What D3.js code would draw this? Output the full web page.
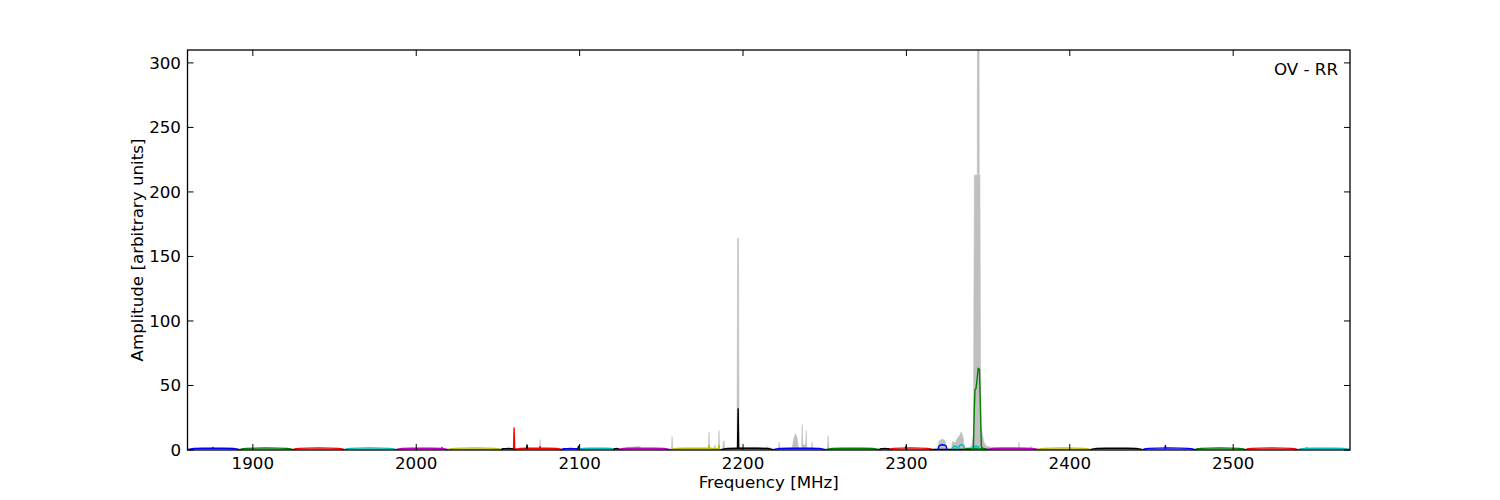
<!DOCTYPE html>
<html lang="en">
<head>
  <meta charset="UTF-8">
  <title>OV - RR spectrum</title>
  <script src="https://cdn.jsdelivr.net/npm/d3@7"></script>
  <style>
    body { margin: 0; background: #fff; }
    svg { font-family: "DejaVu Sans", sans-serif; }
    .band { fill: none; stroke-width: 1.4; stroke-linejoin: round; }
  </style>
</head>
<body>
  <svg width="1500" height="500"></svg>

  <script>
    // --- data ---
    const xTicks = [1900, 2000, 2100, 2200, 2300, 2400, 2500];
    const yTicks = [0, 50, 100, 150, 200, 250, 300];

    // total spectrum (grey fill)
    const grayFreq = [1860, 2075.4, 2075.8, 2076.2, 2127, 2128.5, 2132, 2135, 2137, 2137.6,
      2156.2, 2156.6, 2157.0, 2178.8, 2179.2, 2179.6, 2182.5, 2182.9, 2183.3, 2184.9, 2185.3, 2185.7,
      2187.6, 2188.0, 2188.4, 2188.8, 2196.3, 2196.7, 2197.2, 2197.6, 2214, 2215.2, 2215.6, 2218,
      2221.7, 2222.1, 2222.5, 2230, 2231, 2232, 2233, 2234, 2235.8, 2236.2, 2236.6, 2238.3, 2238.7, 2239.1,
      2241.9, 2242.3, 2242.7, 2251.6, 2252.1, 2252.6, 2319, 2320, 2322, 2323.7, 2324.5,
      2327.5, 2328.3, 2330, 2331, 2332.5, 2333.5, 2334.7, 2335.4, 2338, 2340, 2341,
      2341.6, 2343.4, 2343.45, 2344.5, 2344.55, 2345.0, 2345.5, 2346.5, 2347.5, 2349, 2352, 2366,
      2368.5, 2368.9, 2369.3, 2375.8, 2376.2, 2376.6, 2380, 2572];
    const grayAmp = [0.8, 0.8, 8, 0.8, 0.8, 2, 2.2, 2.8, 2.6, 0.8,
      0.8, 10.5, 0.8, 0.8, 14, 0.8, 0.8, 4, 0.8, 0.8, 15, 0.8,
      0.8, 6, 7, 0.8, 0.8, 164, 164, 2, 2, 2.5, 2, 0.8,
      0.8, 6, 0.8, 0.8, 8, 12.5, 10, 0.8, 0.8, 20, 4, 4, 15, 0.8,
      0.8, 6, 0.8, 0.8, 11, 0.8, 0.8, 7, 8.5, 7, 0.8,
      0.8, 6.5, 5.5, 9, 11, 14, 10, 1.5, 2, 3, 12,
      213, 213, 330, 330, 213, 213, 20, 12, 6, 3, 2, 1.8,
      1.5, 6, 1.5, 1.2, 3, 0.8, 0.8, 0.8];

    // sub-band passbands
    const bandStart = [1860, 1892, 1924.5, 1956, 1987.5, 2019.5, 2052, 2060, 2089, 2099, 2121, 2123,
      2155.5, 2186.5, 2218.5, 2250.5, 2283.5, 2289, 2314, 2319.5, 2328.3, 2332, 2335, 2340.2,
      2349, 2380, 2412.5, 2444.5, 2476.5, 2507.5, 2539.5];
    const bandEnd = [1892, 1924.5, 1956, 1987.5, 2019.5, 2052, 2061, 2089.5, 2100, 2122, 2124, 2155.5,
      2186.5, 2218.5, 2250.5, 2283.5, 2290, 2316, 2340, 2324.8, 2331.2, 2335.5, 2350, 2344.5,
      2381, 2412.5, 2444.5, 2476.5, 2507.5, 2539.5, 2571.5];
    const bandColor = ["b", "g", "r", "c", "m", "y", "k", "r", "b", "c", "k", "m",
      "y", "k", "b", "g", "k", "r", "k", "b", "c", "c", "g", "c",
      "m", "y", "k", "b", "g", "r", "c"];
    const bandLevel = [1.2, 1.3, 1.3, 1.3, 1.2, 1.3, 1, 1.2, 1, 1.2, 1, 1.2,
      1.2, 1.2, 1.2, 1.2, 1, 1.3, 0.4, 3.5, 2.5, 3.5, 1, 2.5,
      1.2, 1.3, 1.2, 1.3, 1.3, 1.3, 1.2];
    // passband shape across one sub-band (fraction of band, relative level)
    const humpPos = [0, 0.04, 0.12, 0.3, 0.5, 0.7, 0.88, 0.96, 1];
    const humpShape = [0.1, 0.6, 0.95, 1.1, 1.15, 1.1, 0.95, 0.6, 0.1];

    // narrow spikes in the sub-band lines
    const spikeFreq = [1875.6, 2015.8, 2059.9, 2067.8, 2075.8, 2099.3, 2179.2, 2185.3, 2197, 2299.8, 2458.5, 2545];
    const spikeAmp = [2, 2, 17, 4, 2.5, 3, 3.5, 3.5, 32, 3, 3.5, 1.8];
    const spikeColor = ["b", "m", "r", "k", "r", "k", "y", "y", "k", "k", "b", "c"];

    // strong line near 2343 MHz in the green sub-band
    const greenPeakFreq = [2340.4, 2341.0, 2341.6, 2342.0, 2342.6, 2343.2, 2343.9, 2344.7, 2345.3, 2345.9, 2347.1];
    const greenPeakAmp = [1, 1.3, 33.6, 46.5, 47.8, 54, 63.3, 62.5, 33.6, 2.6, 1];

    const colorMap = { b: "#0000ff", g: "#008000", r: "#ff0000", c: "#00bfbf", m: "#bf00bf", y: "#bfbf00", k: "#000000" };

    // --- layout ---
    const margin = { left: 187.5, right: 150, top: 50, bottom: 50 };
    const width = 1500, height = 500;
    const fontSize = 16.7;
    const svg = d3.select("svg");

    const x = d3.scaleLinear().domain([1860, 2571.5]).range([margin.left, width - margin.right]);
    const y = d3.scaleLinear().domain([0, 310]).range([height - margin.bottom, margin.top]);

    svg.append("clipPath").attr("id", "plot")
      .append("rect")
      .attr("x", x.range()[0]).attr("y", y.range()[1])
      .attr("width", x.range()[1] - x.range()[0]).attr("height", y.range()[0] - y.range()[1]);

    const plot = svg.append("g").attr("clip-path", "url(#plot)");

    // grey total spectrum
    const grayPts = grayFreq.map((f, i) => [f, grayAmp[i]]);
    plot.append("path")
      .datum(grayPts)
      .attr("fill", "#bfbfbf")
      .attr("stroke", "#bfbfbf")
      .attr("stroke-width", 0.6)
      .attr("d", d3.area().x(d => x(d[0])).y0(y(0)).y1(d => y(d[1])));

    const line = d3.line().x(d => x(d[0])).y(d => y(d[1]));

    // sub-bands
    bandStart.forEach((s, i) => {
      const e = bandEnd[i];
      const pts = humpPos.map((p, j) => [s + p * (e - s), humpShape[j] * bandLevel[i]]);
      plot.append("path")
        .datum(pts)
        .attr("class", "band")
        .attr("stroke", colorMap[bandColor[i]])
        .attr("d", line);
    });

    // green strong line
    plot.append("path")
      .datum(greenPeakFreq.map((f, i) => [f, greenPeakAmp[i]]))
      .attr("class", "band")
      .attr("stroke", colorMap.g)
      .attr("d", line);

    // spikes
    spikeFreq.forEach((f, i) => {
      plot.append("path")
        .datum([[f - 0.35, 1], [f, spikeAmp[i]], [f + 0.35, 1]])
        .attr("class", "band")
        .attr("stroke", colorMap[spikeColor[i]])
        .attr("d", line);
    });

    // --- axes (classic style: ticks inside on all four sides) ---
    const tickLen = 6;
    const frame = svg.append("g");
    frame.append("rect")
      .attr("x", x.range()[0]).attr("y", y.range()[1])
      .attr("width", x.range()[1] - x.range()[0]).attr("height", y.range()[0] - y.range()[1])
      .attr("fill", "none").attr("stroke", "#000").attr("stroke-width", 1.3);

    xTicks.forEach(t => {
      const px = x(t);
      frame.append("line").attr("x1", px).attr("x2", px)
        .attr("y1", y(0)).attr("y2", y(0) - tickLen).attr("stroke", "#000");
      frame.append("line").attr("x1", px).attr("x2", px)
        .attr("y1", y(310)).attr("y2", y(310) + tickLen).attr("stroke", "#000");
      frame.append("text").attr("x", px).attr("y", 469)
        .attr("text-anchor", "middle").attr("font-size", fontSize).text(t);
    });

    yTicks.forEach(t => {
      const py = y(t);
      frame.append("line").attr("x1", x.range()[0]).attr("x2", x.range()[0] + tickLen)
        .attr("y1", py).attr("y2", py).attr("stroke", "#000");
      frame.append("line").attr("x1", x.range()[1]).attr("x2", x.range()[1] - tickLen)
        .attr("y1", py).attr("y2", py).attr("stroke", "#000");
      frame.append("text").attr("x", 181).attr("y", py + 6)
        .attr("text-anchor", "end").attr("font-size", fontSize).text(t);
    });

    svg.append("text")
      .attr("x", (x.range()[0] + x.range()[1]) / 2).attr("y", 488)
      .attr("text-anchor", "middle").attr("font-size", fontSize)
      .text("Frequency [MHz]");

    svg.append("text")
      .attr("transform", `translate(143, ${(y.range()[0] + y.range()[1]) / 2}) rotate(-90)`)
      .attr("text-anchor", "middle").attr("font-size", fontSize)
      .text("Amplitude [arbitrary units]");

    svg.append("text")
      .attr("x", 1338).attr("y", 75)
      .attr("text-anchor", "end").attr("font-size", fontSize)
      .text("OV - RR");
  </script>
</body>
</html>
